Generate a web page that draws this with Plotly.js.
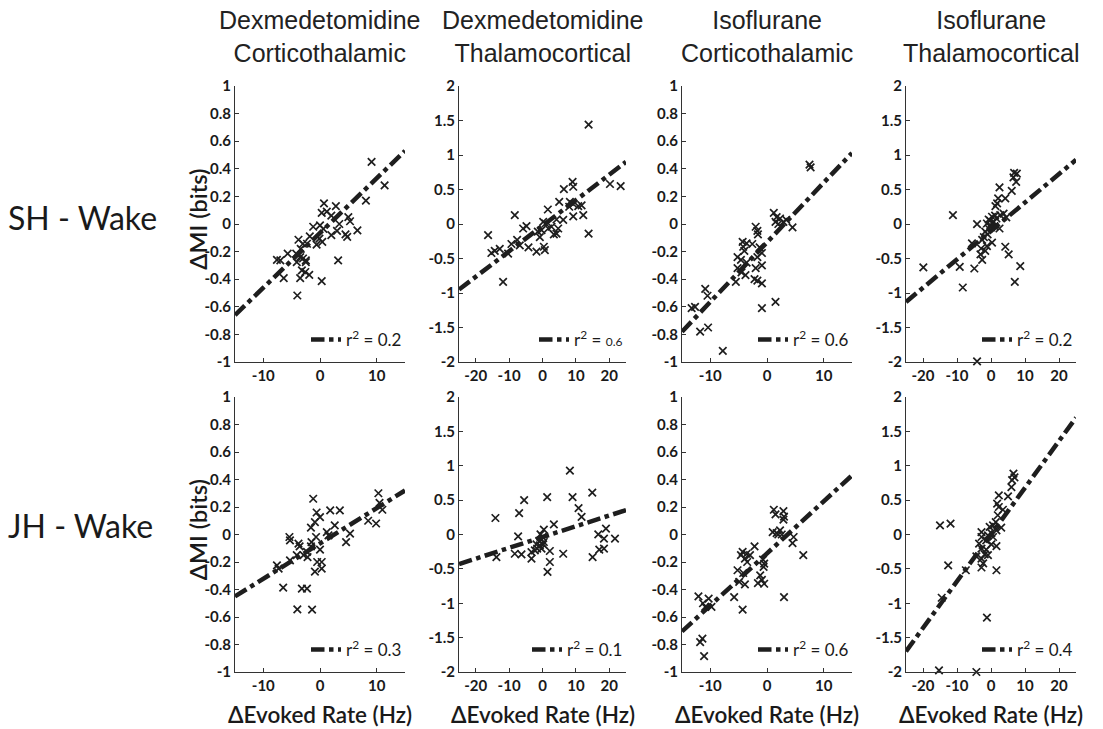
<!DOCTYPE html>
<html>
<head>
<meta charset="utf-8">
<script src="https://cdn.plot.ly/plotly-3.0.1.min.js"></script>
<style>html,body{margin:0;padding:0;background:#fff;}</style>
</head>
<body>
<div id="chart" style="width:1103px;height:729px;"></div>
<script>
// ---------- data ----------
const colTitles = ["Dexmedetomidine<br>Corticothalamic", "Dexmedetomidine<br>Thalamocortical", "Isoflurane<br>Corticothalamic", "Isoflurane<br>Thalamocortical"];
const rowTitles = ["SH - Wake", "JH - Wake"];
const xLabel = "ΔEvoked Rate (Hz)";
const yLabel = "ΔMI (bits)";

const xTicksNarrow = [-10, 0, 10];
const xTicksWide = [-20, -10, 0, 10, 20];
const yTicksSmall = [-1, -0.8, -0.6, -0.4, -0.2, 0, 0.2, 0.4, 0.6, 0.8, 1];
const yTickTextSmall = ["-1", "-0.8", "-0.6", "-0.4", "-0.2", "0", "0.2", "0.4", "0.6", "0.8", "1"];
const yTicksLarge = [-2, -1.5, -1, -0.5, 0, 0.5, 1, 1.5, 2];
const yTickTextLarge = ["-2", "-1.5", "-1", "-0.5", "0", "0.5", "1", "1.5", "2"];

// SH - Wake, Dexmedetomidine Corticothalamic
const shDexCtX = [9.1, 8.1, 0.7, 2.8, 1.2, 0.3, 2.0, 5.0, 5.3, 3.4, -1.2, 0.0, 0.6, 3.0, 6.6, 4.5, 4.8, 2.0, -1.8, -0.1, -0.6, 0.4, -2.3, -3.8, -3.0, -3.4, -4.2, -5.7, -3.5, -3.0, -2.5, -7.6, -7.0, 3.2, -4.1, -2.5, -3.2, -2.6, -1.9, -3.5, -6.4, 0.3, -4.0, 11.4];
const shDexCtY = [0.45, 0.17, 0.15, 0.13, 0.09, 0.08, 0.06, 0.05, 0.02, 0.0, -0.02, -0.01, -0.035, -0.05, -0.046, -0.075, -0.094, -0.08, -0.09, -0.106, -0.15, -0.13, -0.143, -0.114, -0.143, -0.18, -0.215, -0.215, -0.24, -0.25, -0.264, -0.26, -0.264, -0.264, -0.276, -0.276, -0.336, -0.348, -0.368, -0.392, -0.392, -0.414, -0.518, 0.28];
const shDexCtFitX = [-15, 15];
const shDexCtFitY = [-0.66, 0.53];

// SH - Wake, Dexmedetomidine Thalamocortical
const shDexTcX = [13.8, 23.4, 20.2, 9.0, 9.2, 6.4, 8.2, 5.0, 9.2, 11.7, 8.0, 10.7, 1.6, 12.2, 9.2, -8.3, 6.2, 4.2, 0.2, 0.9, 2.7, 4.7, 1.7, -4.8, -5.8, -0.3, -1.4, 3.4, 4.2, -0.8, 13.8, -16.3, -7.6, -9.3, -6.8, -4.2, -12.8, 0.4, 0.7, -1.8, -15.3, -14.3, -10.3, -11.8];
const shDexTcY = [1.44, 0.55, 0.58, 0.61, 0.54, 0.505, 0.32, 0.32, 0.29, 0.27, 0.25, 0.26, 0.21, 0.13, 0.11, 0.13, 0.06, 0.065, 0.03, 0.007, -0.04, -0.065, -0.065, -0.03, -0.065, -0.09, -0.11, -0.15, -0.14, -0.19, -0.14, -0.16, -0.23, -0.29, -0.31, -0.34, -0.36, -0.33, -0.38, -0.40, -0.42, -0.39, -0.43, -0.84];
const shDexTcFitX = [-25, 25];
const shDexTcFitY = [-0.95, 0.9];

// SH - Wake, Isoflurane Corticothalamic
const shIsoCtX = [7.5, 7.7, 1.2, 1.7, 2.3, 2.9, 1.5, 2.0, 4.5, 3.4, -2.0, -1.7, -1.6, -4.3, -3.6, -2.6, -4.2, -4.0, -1.3, -0.9, -1.7, -5.2, -4.6, -3.6, -0.9, -2.0, -5.2, -4.5, -3.8, -2.2, -5.5, -0.9, -1.7, -10.9, -10.5, -0.9, 1.5, -13.3, -12.7, -10.4, -11.8, -7.8];
const shIsoCtY = [0.43, 0.41, 0.08, 0.05, 0.04, 0.015, 0.015, 0.0, -0.025, 0.03, -0.02, -0.05, -0.075, -0.13, -0.14, -0.145, -0.165, -0.195, -0.17, -0.21, -0.24, -0.24, -0.26, -0.28, -0.30, -0.32, -0.32, -0.35, -0.37, -0.40, -0.42, -0.43, -0.41, -0.47, -0.52, -0.61, -0.565, -0.61, -0.60, -0.75, -0.78, -0.92];
const shIsoCtFitX = [-15, 15];
const shIsoCtFitY = [-0.78, 0.515];

// SH - Wake, Isoflurane Thalamocortical
const shIsoTcX = [6.8, 7.6, 6.6, 7.4, 2.5, 6.1, 4.2, 2.1, 1.8, 1.3, -11.2, 3.7, 4.5, 2.7, 0.3, 1.6, -0.7, 0.8, -1.2, -4.1, -0.2, 2.5, -0.7, -1.7, -2.1, -2.6, 0.3, -5.6, -1.2, -2.9, -1.7, 4.2, -3.1, 5.2, -2.6, -19.9, -9.2, -4.9, 8.6, 7.0, -8.3, -4.1, 0.5, -0.3, 1.0, -1.0, 0.0, 1.2];
const shIsoTcY = [0.74, 0.73, 0.675, 0.61, 0.53, 0.48, 0.37, 0.37, 0.30, 0.26, 0.13, 0.15, 0.095, 0.13, 0.105, 0.08, 0.065, 0.03, 0.007, -0.002, -0.017, -0.065, -0.065, -0.11, -0.19, -0.23, -0.27, -0.28, -0.32, -0.355, -0.39, -0.33, -0.44, -0.44, -0.52, -0.63, -0.62, -0.645, -0.61, -0.84, -0.92, -1.99, 0.02, 0.05, -0.03, -0.15, -0.05, 0.12];
const shIsoTcFitX = [-25, 25];
const shIsoTcFitY = [-1.13, 0.93];

// JH - Wake, Dexmedetomidine Corticothalamic
const jhDexCtX = [10.3, 10.5, 11.0, 8.5, 9.9, -1.2, -0.6, 1.8, 3.5, 0.0, -0.9, -1.6, 1.2, 1.5, 2.6, 5.3, 4.6, -5.4, -5.3, -3.8, -3.6, -1.5, -0.7, -1.6, 0.0, -2.3, -2.9, -2.2, -0.5, 0.3, 0.3, -0.9, -5.3, -7.6, -7.3, -4.1, -6.5, -3.2, -2.3, -4.0, -1.4];
const jhDexCtY = [0.30, 0.23, 0.18, 0.10, 0.08, 0.26, 0.16, 0.175, 0.175, 0.127, 0.09, 0.05, 0.018, -0.006, 0.067, 0.006, -0.055, -0.018, -0.042, -0.067, -0.086, -0.055, -0.018, -0.086, -0.11, -0.127, -0.15, -0.164, -0.20, -0.20, -0.248, -0.27, -0.188, -0.224, -0.248, -0.15, -0.387, -0.394, -0.394, -0.545, -0.547];
const jhDexCtFitX = [-15, 15];
const jhDexCtFitY = [-0.45, 0.32];

// JH - Wake, Dexmedetomidine Thalamocortical
const jhDexTcX = [8.2, 14.9, 1.4, 9.0, -5.5, 10.8, 11.7, -14.1, -7.0, 3.4, 19.0, 0.4, 16.7, -7.3, 18.4, 21.7, -0.6, 0.0, -0.3, 0.4, -1.0, 0.2, -1.8, -1.6, -2.3, 2.2, 17.0, 18.4, -3.3, -8.3, -6.3, 6.2, -13.8, 15.0, -3.3, 2.2, 1.5, -0.8, -0.3];
const jhDexTcY = [0.93, 0.61, 0.545, 0.545, 0.50, 0.385, 0.255, 0.24, 0.31, 0.148, 0.085, 0.07, 0.002, -0.027, -0.06, -0.06, 0.003, -0.036, -0.075, -0.109, -0.095, -0.143, -0.143, -0.206, -0.23, -0.24, -0.22, -0.206, -0.255, -0.28, -0.29, -0.28, -0.33, -0.33, -0.35, -0.40, -0.545, -0.158, -0.206];
const jhDexTcFitX = [-25, 25];
const jhDexTcFitY = [-0.43, 0.355];

// JH - Wake, Isoflurane Corticothalamic
const jhIsoCtX = [1.2, 2.9, 1.5, 3.0, 2.9, 1.0, 1.7, 2.3, 2.0, 2.6, 4.7, 4.5, 6.4, -2.2, -4.3, -3.6, -3.0, -4.6, -3.9, -3.5, -0.7, -0.5, -0.6, -5.2, -4.2, -1.2, -0.9, -1.6, -0.5, -4.9, -3.9, -5.8, 3.0, -12.1, -11.3, -10.3, -10.9, -9.8, -4.3, -11.8, -11.4, -11.1];
const jhIsoCtY = [0.18, 0.17, 0.147, 0.13, 0.108, 0.018, 0.01, 0.03, 0.0, 0.0, -0.018, -0.062, -0.15, -0.086, -0.127, -0.14, -0.15, -0.15, -0.176, -0.20, -0.183, -0.212, -0.236, -0.26, -0.28, -0.297, -0.33, -0.353, -0.358, -0.345, -0.362, -0.455, -0.455, -0.45, -0.50, -0.466, -0.527, -0.527, -0.547, -0.782, -0.757, -0.884];
const jhIsoCtFitX = [-15, 15];
const jhIsoCtFitY = [-0.705, 0.43];

// JH - Wake, Isoflurane Thalamocortical
const jhIsoTcX = [6.6, 6.9, 6.2, 6.0, 5.0, 2.3, 1.8, 2.3, 3.5, 2.0, 1.4, 3.0, 0.6, -0.4, 1.6, 0.1, -2.8, -0.9, 0.6, -2.8, -1.4, -3.5, 0.1, 1.6, -2.8, -1.4, -1.85, -0.9, -4.3, -2.8, -2.3, -2.8, 1.6, -7.4, -15.0, -11.9, -12.6, -14.5, -1.2, -15.3, -4.3];
const jhIsoTcY = [0.885, 0.83, 0.79, 0.69, 0.555, 0.57, 0.45, 0.40, 0.36, 0.28, 0.18, 0.10, 0.133, 0.11, 0.06, 0.02, 0.036, -0.012, -0.036, -0.036, -0.085, -0.133, -0.143, -0.17, -0.206, -0.22, -0.29, -0.30, -0.318, -0.35, -0.42, -0.48, -0.52, -0.52, 0.133, 0.158, -0.45, -0.92, -1.21, -1.975, -2.0];
const jhIsoTcFitX = [-25, 25];
const jhIsoTcFitY = [-1.7, 1.7];

const r2Labels = ["r<sup>2</sup> = 0.2", "r<sup>2</sup> = <span style=\"font-size:12px\">0.6</span>", "r<sup>2</sup> = 0.6", "r<sup>2</sup> = 0.2",
                  "r<sup>2</sup> = 0.3", "r<sup>2</sup> = 0.1", "r<sup>2</sup> = 0.6", "r<sup>2</sup> = 0.4"];

// ---------- layout helpers ----------
const W = 1103, H = 729;
const colPx = [[235, 405], [459, 626], [682, 852], [906, 1076]];
const rowPx = [[86, 362], [397, 672]];
const panels = [
  {x: shDexCtX, y: shDexCtY, fx: shDexCtFitX, fy: shDexCtFitY, xr: 15, yr: 1},
  {x: shDexTcX, y: shDexTcY, fx: shDexTcFitX, fy: shDexTcFitY, xr: 25, yr: 2},
  {x: shIsoCtX, y: shIsoCtY, fx: shIsoCtFitX, fy: shIsoCtFitY, xr: 15, yr: 1},
  {x: shIsoTcX, y: shIsoTcY, fx: shIsoTcFitX, fy: shIsoTcFitY, xr: 25, yr: 2},
  {x: jhDexCtX, y: jhDexCtY, fx: jhDexCtFitX, fy: jhDexCtFitY, xr: 15, yr: 1},
  {x: jhDexTcX, y: jhDexTcY, fx: jhDexTcFitX, fy: jhDexTcFitY, xr: 25, yr: 2},
  {x: jhIsoCtX, y: jhIsoCtY, fx: jhIsoCtFitX, fy: jhIsoCtFitY, xr: 15, yr: 1},
  {x: jhIsoTcX, y: jhIsoTcY, fx: jhIsoTcFitX, fy: jhIsoTcFitY, xr: 25, yr: 2}
];

const sans = "Lato, 'Open Sans', sans-serif";
const tickFont = {family: sans, size: 15, color: "#1a1a1a", weight: 700};
const ink = "#1e1e1e";
const data = [];
const layout = {
  width: W, height: H,
  margin: {l: 0, r: 0, t: 0, b: 0},
  paper_bgcolor: "#fff", plot_bgcolor: "#fff",
  showlegend: true,
  annotations: []
};

panels.forEach((p, i) => {
  const n = i + 1;
  const row = Math.floor(i / 4), col = i % 4;
  const xa = "x" + (n === 1 ? "" : n), ya = "y" + (n === 1 ? "" : n);
  const lg = "legend" + (n === 1 ? "" : n);
  data.push({
    type: "scatter", mode: "markers", x: p.x, y: p.y, xaxis: xa, yaxis: ya,
    marker: {symbol: "x-thin", size: 7.5, line: {width: 1.7, color: ink}, color: ink},
    showlegend: false, cliponaxis: false, hoverinfo: "x+y"
  });
  data.push({
    type: "scatter", mode: "lines", x: p.fx, y: p.fy, xaxis: xa, yaxis: ya,
    line: {dash: "dashdot", width: 4.5, color: ink},
    name: r2Labels[i], legend: lg, showlegend: true, cliponaxis: false
  });
  const xd = [colPx[col][0] / W, colPx[col][1] / W];
  const yd = [1 - rowPx[row][1] / H, 1 - rowPx[row][0] / H];
  const axBase = {
    showline: true, linecolor: "#333", linewidth: 1, ticks: "inside", ticklen: 4, tickcolor: "#333",
    showgrid: false, zeroline: false, tickfont: tickFont, fixedrange: true
  };
  layout["xaxis" + (n === 1 ? "" : n)] = Object.assign({}, axBase, {
    domain: xd, anchor: ya, range: [-p.xr, p.xr],
    tickmode: "array", tickvals: p.xr === 15 ? xTicksNarrow : xTicksWide,
    ticktext: (p.xr === 15 ? xTicksNarrow : xTicksWide).map(v => String(v))
  });
  layout["yaxis" + (n === 1 ? "" : n)] = Object.assign({}, axBase, {
    domain: yd, anchor: xa, range: [-p.yr, p.yr],
    tickmode: "array", tickvals: p.yr === 1 ? yTicksSmall : yTicksLarge,
    ticktext: p.yr === 1 ? yTickTextSmall : yTickTextLarge
  });
  layout[lg] = {
    x: (colPx[col][1] + 2) / W, y: 1 - (rowPx[row][1] - 22) / H,
    xanchor: "right", yanchor: "middle",
    bgcolor: "rgba(0,0,0,0)", borderwidth: 0,
    font: {family: sans, size: 17, color: "#1a1a1a"},
    itemwidth: 30, tracegroupgap: 0
  };
});

// column titles and x labels
colTitles.forEach((t, c) => {
  const xc = (colPx[c][0] + colPx[c][1]) / 2 / W;
  layout.annotations.push({
    text: t, xref: "paper", yref: "paper",
    x: xc, y: 1 - 36.5 / H,
    xanchor: "center", yanchor: "middle", showarrow: false,
    font: {family: "'Liberation Sans', Arial, sans-serif", size: 25, color: "#222"}
  });
  layout.annotations.push({
    text: xLabel, xref: "paper", yref: "paper",
    x: xc, y: 1 - 714 / H,
    xanchor: "center", yanchor: "middle", showarrow: false,
    font: {family: sans, size: 22.5, color: "#1a1a1a", weight: 600}
  });
});
// row labels + y labels
rowTitles.forEach((t, r) => {
  const yc = 1 - ((rowPx[r][0] + rowPx[r][1]) / 2) / H;
  layout.annotations.push({
    text: t, xref: "paper", yref: "paper", x: 6 / W, y: yc + (r === 0 ? 0.009 : 0.012),
    xanchor: "left", yanchor: "middle", showarrow: false,
    font: {family: sans, size: 32, color: "#1a1a1a"}
  });
  layout.annotations.push({
    text: yLabel, xref: "paper", yref: "paper", x: 198 / W, y: yc + 0.006,
    xanchor: "center", yanchor: "middle", showarrow: false, textangle: -90,
    font: {family: sans, size: 23.5, color: "#1a1a1a", weight: 600}
  });
});

Plotly.newPlot("chart", data, layout, {displayModeBar: false, staticPlot: true});
</script>
</body>
</html>
